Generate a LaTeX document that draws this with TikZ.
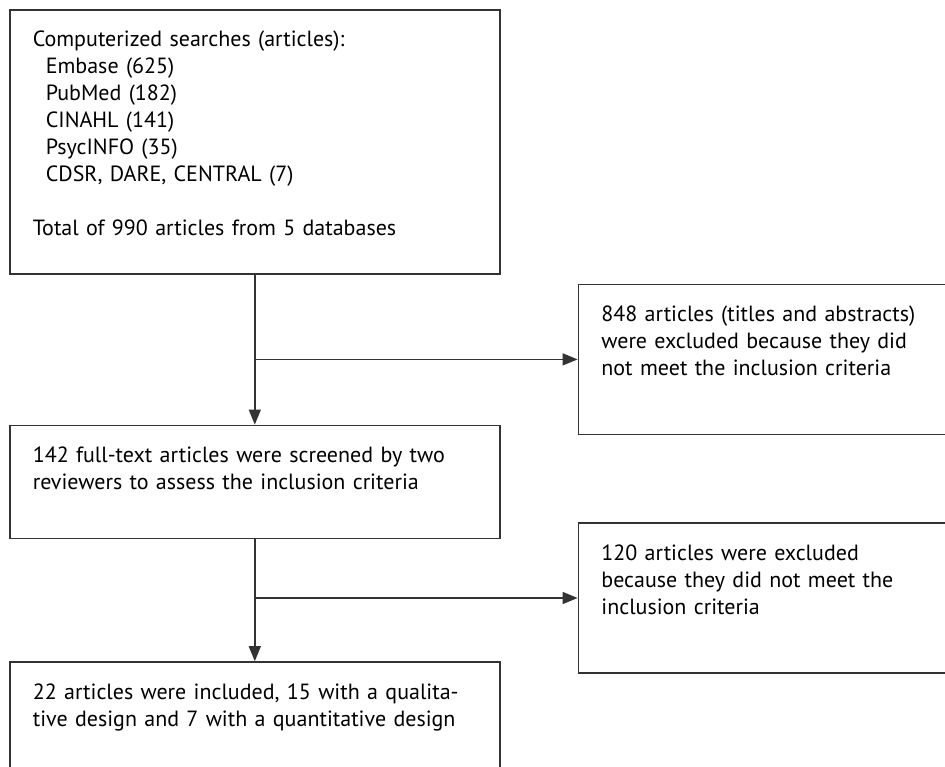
\documentclass[tikz,border=0pt]{standalone}
\usepackage{fontspec}
\setmainfont{PT Sans}
\usetikzlibrary{arrows.meta,positioning}
\tikzset{
>={Triangle[length=15pt,width=12pt]},
main box/.style={draw=black!80,line width=1.6pt,anchor=north west,text width=444pt,
  align=left,inner xsep=23pt,inner ysep=0pt,text height=37pt},
side box/.style={main box,text width=354pt,text depth=113pt},
freccia/.style={->,draw=black!80,line width=1.4pt}}

\begin{document}
\begin{tikzpicture}[x=1pt,y=-1pt,font=\fontsize{22}{27}\selectfont]

\clip (0,0) rectangle (945,767);
\node[main box,text depth=227pt] (search) at (9,9) {Computerized searches (articles):\\
  \hspace*{13pt}Embase (625)\\
  \hspace*{13pt}PubMed (182)\\
  \hspace*{13pt}CINAHL (141)\\
  \hspace*{13pt}PsycINFO (35)\\
  \hspace*{13pt}CDSR, DARE, CENTRAL (7)\\[27pt]
  Total of 990 articles from 5 databases};
\node (screen) [main box,text depth=76pt,below=150pt of search] {142 full-text articles were screened by two\\
  reviewers to assess the inclusion criteria};
\node (incl) [main box,text depth=120pt,below=122pt of screen] {22 articles were included, 15 with a qualita-\\
  tive design and 7 with a quantitative design};

\node (excl1) [side box,below right=9pt and 77pt of search] {848 articles (titles and abstracts)\\
  were excluded because they did\\
  not meet the inclusion criteria};
\node (excl2) [side box,below right=-17pt and 77pt of screen] {120 articles were excluded\\
  because they did not meet the\\
  inclusion criteria};

\draw[freccia] (search) -- (screen);
\draw[freccia] (search.south |- excl1.west) -- (excl1.west);
\draw[freccia] (screen) -- (incl);
\draw[freccia] (screen.south |- excl2.west) -- (excl2.west);

\end{tikzpicture}
\end{document}
